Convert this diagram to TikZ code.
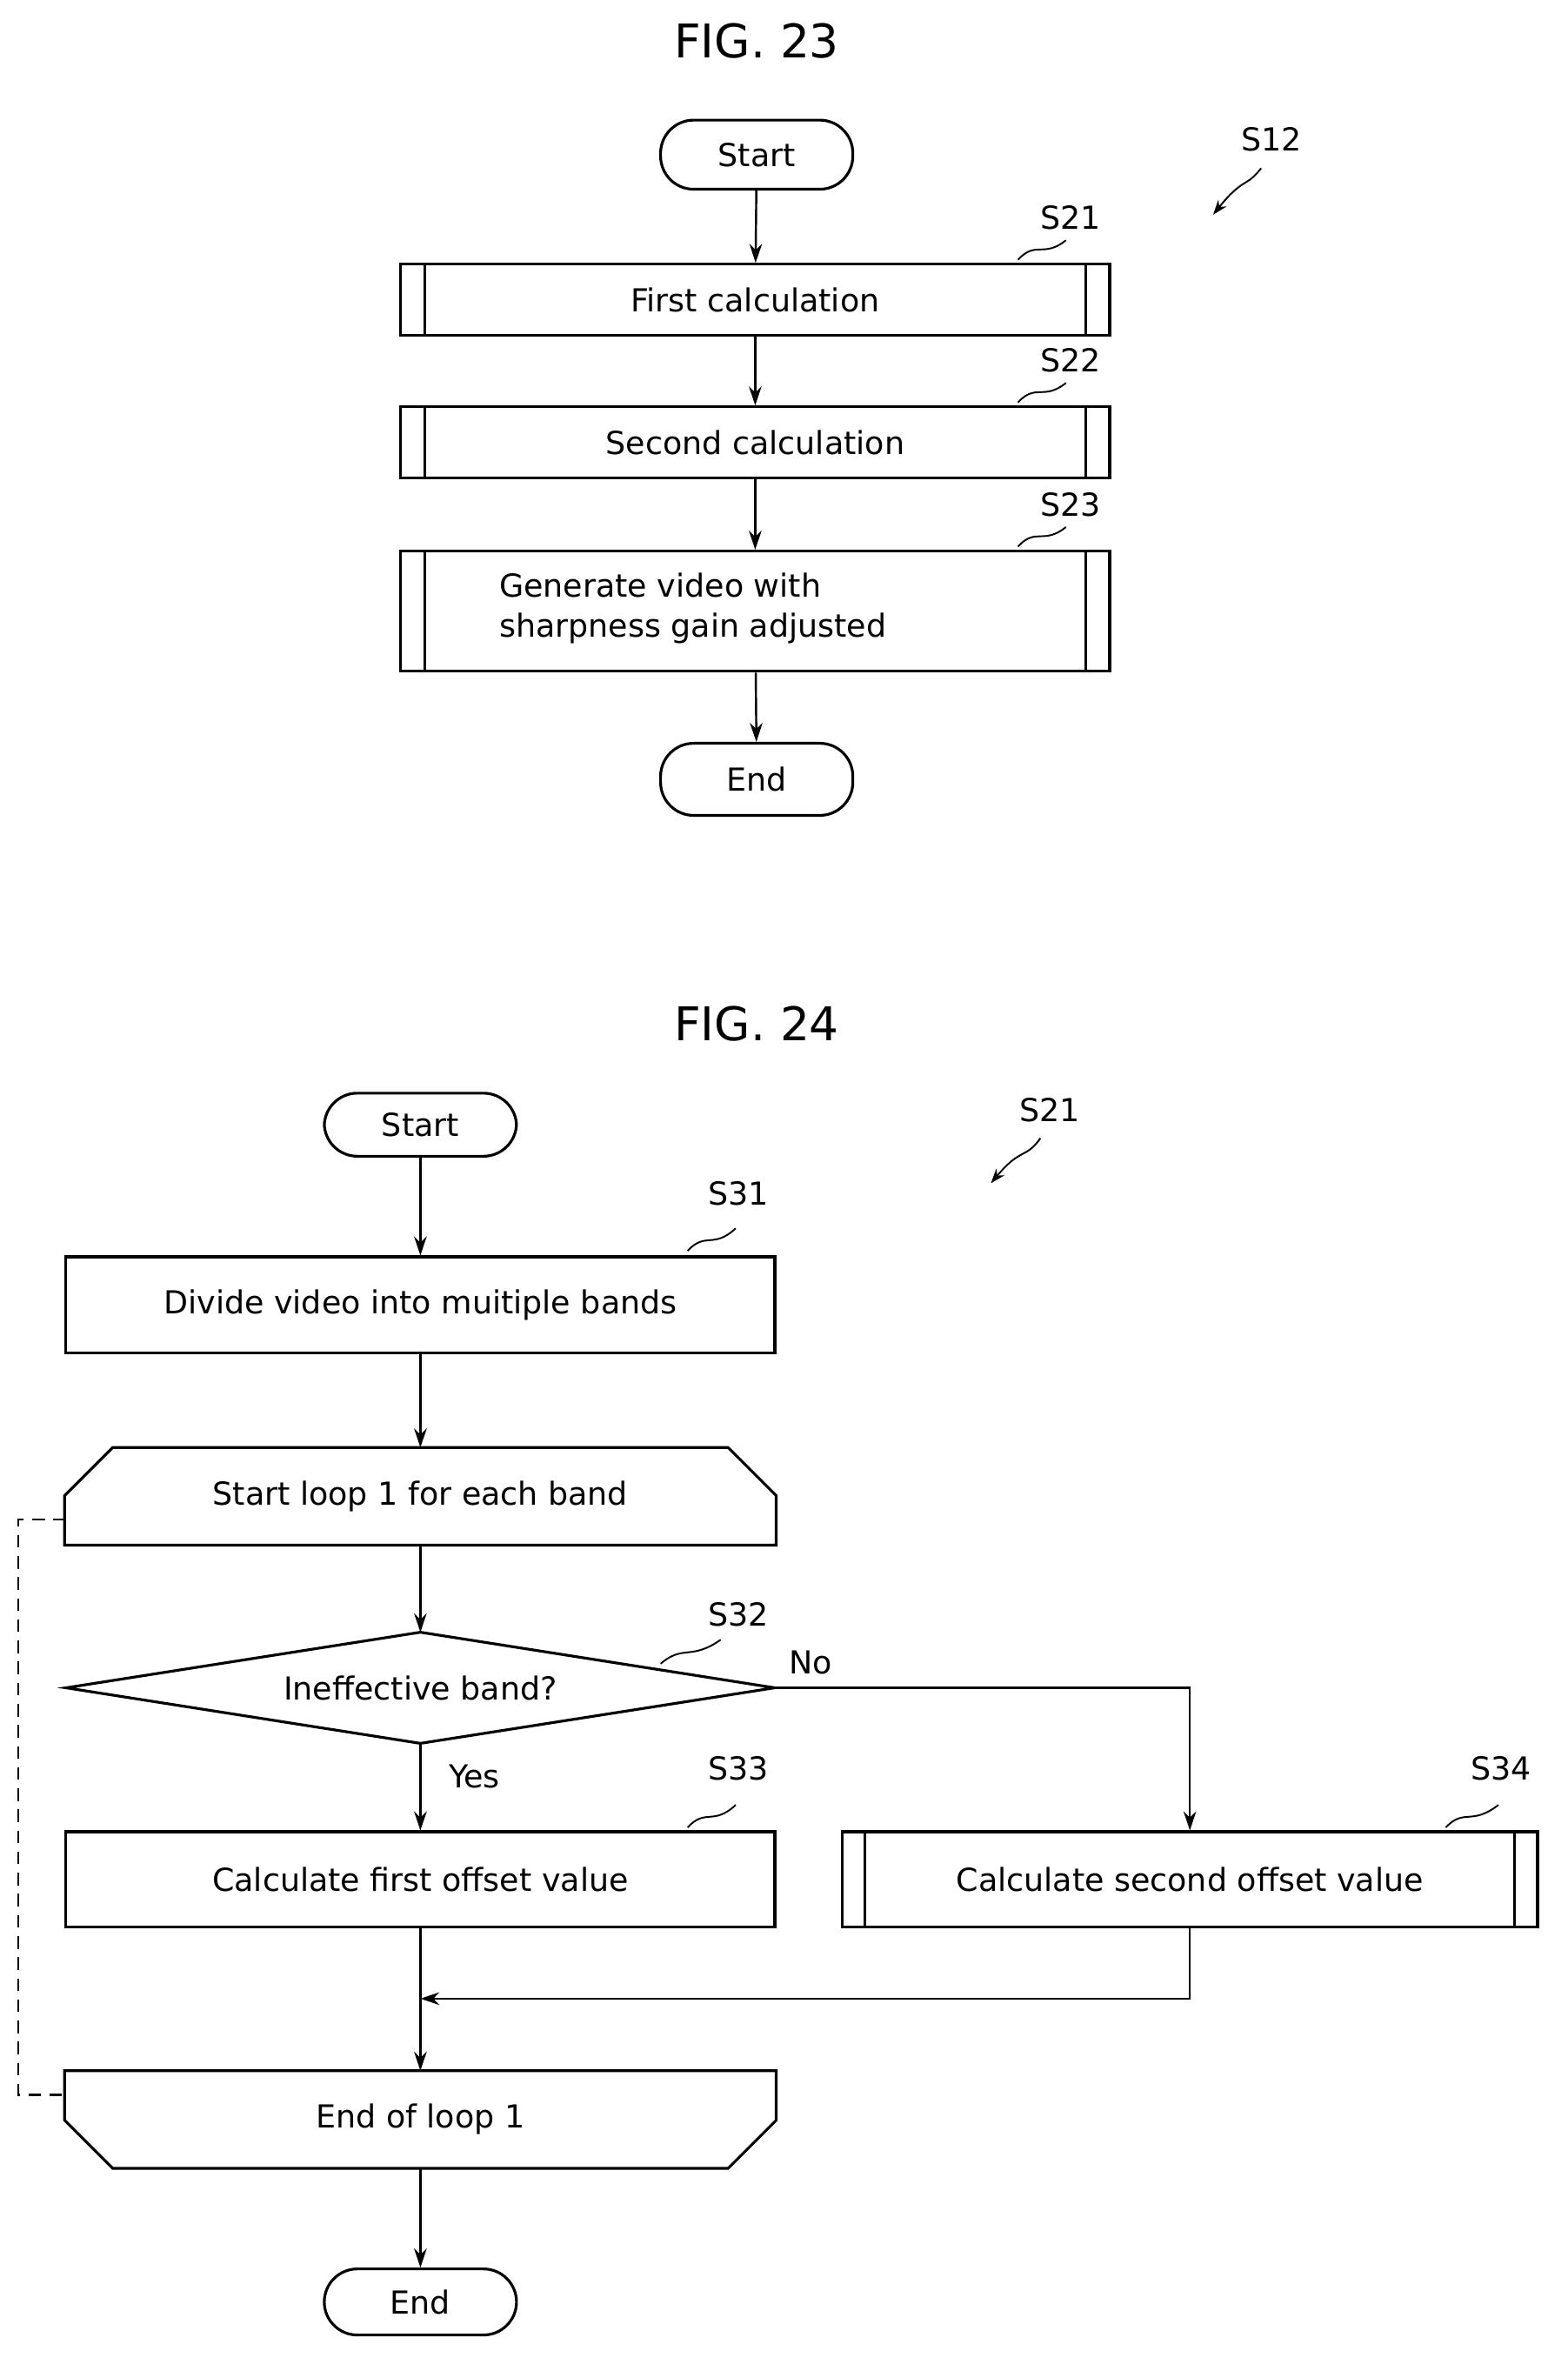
\documentclass[tikz,border=0pt]{standalone}
\usepackage{fontspec}
\setmainfont{DejaVu Sans}
\usetikzlibrary{arrows.meta}
\begin{document}
\begin{tikzpicture}[x=0.025cm,y=-0.025cm,line width=1.3pt,
  every node/.style={font=\fontsize{15}{19}\selectfont},
  term/.style={draw,rounded corners=0.55cm,minimum width=3.2cm,minimum height=1.15cm,inner sep=0pt},
  box/.style={draw,minimum width=11.8cm,inner sep=0pt},
  plain/.style={inner sep=0pt},
  arr/.style={-{Stealth[length=9pt,width=6pt]},line width=1pt},
  lab/.style={font=\fontsize{15}{19}\selectfont},
  sq/.style={line width=0.8pt}]
\useasboundingbox (0,0) rectangle (1044,1579);
% FIG 23
\node[font=\fontsize{22}{26}\selectfont] (t23) at (504,27) {FIG. 23};
\node[term] (st1) at (504,103) {Start};
\node[box,minimum height=1.18cm] (b21) at (503,199.5) {First calculation};
\node[box,minimum height=1.18cm] (b22) at (503,294.5) {Second calculation};
\node[box,minimum height=2cm] (b23) at (503,407) {};
\node[align=left,anchor=west] (tx23) at (327,405) {Generate video with\\sharpness gain adjusted};
\node[term,minimum height=1.2cm] (en1) at (504,519) {End};
\foreach \b in {b21,b22,b23}{
  \draw ([xshift=0.42cm]\b.north west) -- ([xshift=0.42cm]\b.south west);
  \draw ([xshift=-0.42cm]\b.north east) -- ([xshift=-0.42cm]\b.south east);}
\draw[arr] (st1) -- (b21);
\draw[arr] (b21) -- (b22);
\draw[arr] (b22) -- (b23);
\draw[arr] (b23) -- (en1);
\node[lab] (l12) at (847,93) {S12};
\coordinate (a12) at (808,143);
\draw[sq,-{Stealth[length=7pt,width=5pt]}] (840,112) .. controls (830,125) and (828,118) .. (a12);
\node[lab] (l21) at (713,145) {S21};
\node[lab] (l22) at (713,240) {S22};
\node[lab] (l23) at (713,336) {S23};
\draw[sq] (678,173) .. controls (690,160) and (695,172) .. (710,160);
\draw[sq] (678,268) .. controls (690,255) and (695,267) .. (710,255);
\draw[sq] (678,364) .. controls (690,351) and (695,363) .. (710,351);
% FIG 24
\node[font=\fontsize{22}{26}\selectfont] (t24) at (504,682) {FIG. 24};
\node[term,minimum height=1.05cm] (st2) at (280,749) {Start};
\node[lab] (l21b) at (699,739) {S21};
\coordinate (a21) at (660,788);
\draw[sq,-{Stealth[length=7pt,width=5pt]}] (693,758) .. controls (683,772) and (680,764) .. (a21);
\node[box,minimum height=1.6cm] (s31) at (280,869) {Divide video into muitiple bands};
\node[lab] (l31) at (492,795) {S31};
\draw[sq] (458,833) .. controls (470,820) and (475,832) .. (490,818);
\node[plain,minimum width=11.8cm,minimum height=1.58cm] (lp1) at (280,996.5) {Start loop 1 for each band};
\draw (lp1.south west) -- ([yshift=-0.8cm]lp1.north west) -- ([xshift=0.8cm]lp1.north west) -- ([xshift=-0.8cm]lp1.north east) -- ([yshift=-0.8cm]lp1.north east) -- (lp1.south east) -- cycle;
\node[plain] (dec) at (280,1124) {Ineffective band?};
\coordinate (dl) at (44,1124); \coordinate (dr) at (516,1124);
\coordinate (dt) at (280,1087); \coordinate (db) at (280,1161);
\draw (dl) -- (dt) -- (dr) -- (db) -- cycle;
\node[lab] (l32) at (492,1075) {S32};
\draw[sq] (440,1108) .. controls (455,1095) and (460,1106) .. (480,1092);
\node[lab] (no) at (540,1107) {No};
\node[lab] (yes) at (316,1183) {Yes};
\node[box,minimum height=1.58cm] (s33) at (280,1251.5) {Calculate first offset value};
\node[lab] (l33) at (492,1178) {S33};
\draw[sq] (458,1217) .. controls (470,1204) and (475,1216) .. (490,1202);
\node[draw,inner sep=0pt,minimum width=11.575cm,minimum height=1.58cm] (s34) at (792.5,1251.5) {Calculate second offset value};
\draw ([xshift=0.4cm]s34.north west) -- ([xshift=0.4cm]s34.south west);
\draw ([xshift=-0.4cm]s34.north east) -- ([xshift=-0.4cm]s34.south east);
\node[lab] (l34) at (1000,1178) {S34};
\draw[sq] (963,1217) .. controls (975,1204) and (980,1216) .. (998,1202);
\node[plain,minimum width=11.8cm,minimum height=1.58cm] (lp2) at (280,1411.5) {End of loop 1};
\draw (lp2.north west) -- ([yshift=0.8cm]lp2.south west) -- ([xshift=0.8cm]lp2.south west) -- ([xshift=-0.8cm]lp2.south east) -- ([yshift=0.8cm]lp2.south east) -- (lp2.north east) -- cycle;
\node[term,minimum height=1.1cm] (en2) at (280,1533) {End};
\coordinate (m) at (280,1331);
\draw[arr] (st2) -- (s31);
\draw[arr] (s31) -- (lp1);
\draw[arr] (lp1) -- (dt);
\draw[arr] (db) -- (s33);
\draw[arr] (dr) -| (s34.north);
\draw[arr] (s34.south) |- (m);
\draw[arr] (s33) -- (lp2);
\draw[arr] (lp2) -- (en2);
\draw[line width=1pt,dash pattern=on 6pt off 4pt] (44,1012) -- (12,1012) -- (12,1395) -- (44,1395);
\end{tikzpicture}
\end{document}
